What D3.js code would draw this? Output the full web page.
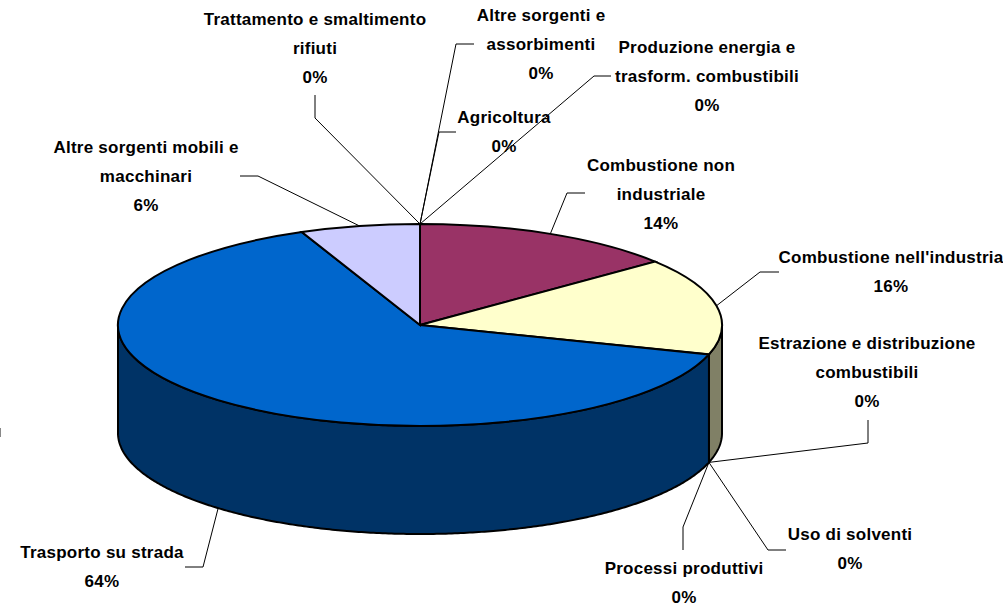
<!DOCTYPE html>
<html>
<head>
<meta charset="utf-8">
<script src="https://cdnjs.cloudflare.com/ajax/libs/d3/7.8.5/d3.min.js"></script>
<style>
html, body { margin: 0; padding: 0; background: #fff; overflow: hidden; }
svg { display: block; }
text { font-family: "Liberation Sans", Arial, sans-serif; font-weight: bold; font-size: 17px; letter-spacing: 0.25px; fill: #000; text-anchor: middle; }
</style>
</head>
<body>
<script>
// Data, clockwise from 12 o'clock
var categories = [
  "Produzione energia e trasform. combustibili",
  "Combustione non industriale",
  "Combustione nell'industria",
  "Estrazione e distribuzione combustibili",
  "Processi produttivi",
  "Uso di solventi",
  "Trasporto su strada",
  "Altre sorgenti mobili e macchinari",
  "Trattamento e smaltimento rifiuti",
  "Agricoltura",
  "Altre sorgenti e assorbimenti"
];
var values = [0, 14.2, 15.5, 0, 0, 0, 63.9, 6.4, 0, 0, 0];
var topColors = ["#999999", "#993366", "#FFFFCC", "#CCFFFF", "#660066", "#FF8080", "#0066CC", "#CCCCFF", "#000080", "#FF00FF", "#FFFF00"];
var sideColors = ["#4d4d4d", "#4d1a33", "#808066", "#668080", "#330033", "#804040", "#003366", "#666680", "#000040", "#800080", "#808000"];

// Label lines, in the same order as the categories
var labelLines = [
  ["Produzione energia e", "trasform. combustibili"],
  ["Combustione non", "industriale"],
  ["Combustione nell'industria"],
  ["Estrazione e distribuzione", "combustibili"],
  ["Processi produttivi"],
  ["Uso di solventi"],
  ["Trasporto su strada"],
  ["Altre sorgenti mobili e", "macchinari"],
  ["Trattamento e smaltimento", "rifiuti"],
  ["Agricoltura"],
  ["Altre sorgenti e", "assorbimenti"]
];

// Where each label sits and the elbows of its leader line
var labelPlace = [
  {x: 707, y: 53, elbow: [[594, 76], [611, 76]]},
  {x: 661, y: 171, elbow: [[567, 193], [585, 193]]},
  {x: 891, y: 263, elbow: [[760, 272], [779, 272]]},
  {x: 867, y: 349, elbow: [[868, 443], [868, 420]]},
  {x: 684, y: 574, elbow: [[683, 527], [683, 550]]},
  {x: 850, y: 540, elbow: [[768, 550], [786, 550]]},
  {x: 102, y: 558, elbow: [[203, 567], [185, 567]]},
  {x: 146, y: 153, elbow: [[258, 176], [240, 176]]},
  {x: 315, y: 25, elbow: [[315, 118], [315, 95]]},
  {x: 504, y: 123, elbow: [[439, 132], [456, 132]]},
  {x: 541, y: 21, elbow: [[456, 44], [474, 44]]}
];

var width = 1003, height = 605;
var cx = 420, cy = 325, rx = 302, ry = 101, depth = 108;
var lineStep = 29;

var svg = d3.select("body")
.append("svg")
.attr("width", width)
.attr("height", height);

var slices = d3.pie()
.sort(null)
.value(function(d) {return d;})(values);

// Point on the tilted rim, angle is clockwise from the top
function rim(angle, drop) {
  return [cx + rx * Math.sin(angle), cy - ry * Math.cos(angle) + drop];
}

var line = d3.line();

// Side wall of a slice, only the part facing the viewer
function wall(a0, a1) {
  var from = Math.max(a0, Math.PI / 2), to = Math.min(a1, Math.PI * 1.5);
  if (to <= from) return null;
  var angles = d3.range(from, to, 0.01).concat([to]);
  var upper = angles.map(function(a) {return rim(a, 0);});
  var lower = angles.slice().reverse().map(function(a) {return rim(a, depth);});
  return line(upper.concat(lower)) + "Z";
}

svg.append("g")
.selectAll("path")
.data(slices.filter(function(d) {return d.value > 0 && wall(d.startAngle, d.endAngle);}))
.join("path")
.attr("d", function(d) {return wall(d.startAngle, d.endAngle);})
.attr("fill", function(d) {return sideColors[d.index];})
.attr("stroke", "#000")
.attr("stroke-width", 2)
.attr("stroke-linejoin", "round");

// Top face is a normal d3 arc squashed into an ellipse
var arc = d3.arc().innerRadius(0).outerRadius(rx);

svg.append("g")
.attr("transform", "translate(" + cx + "," + cy + ") scale(1," + (ry / rx) + ")")
.selectAll("path")
.data(slices.filter(function(d) {return d.value > 0;}))
.join("path")
.attr("d", arc)
.attr("fill", function(d) {return topColors[d.index];})
.attr("stroke", "#000")
.attr("stroke-width", 2)
.attr("vector-effect", "non-scaling-stroke");

// Leader lines start at the middle of the slice on its visible edge
function anchor(d) {
  var mid = (d.startAngle + d.endAngle) / 2;
  var onFront = mid > Math.PI / 2 && mid < Math.PI * 1.5;
  return rim(mid, onFront ? depth : 0);
}

svg.append("g")
.selectAll("path")
.data(slices)
.join("path")
.attr("d", function(d) {return line([anchor(d)].concat(labelPlace[d.index].elbow));})
.attr("fill", "none")
.attr("stroke", "#000")
.attr("stroke-width", 1);

// Labels: name lines then the rounded percent
var labels = svg.append("g")
.selectAll("text")
.data(slices)
.join("text")
.attr("x", function(d) {return labelPlace[d.index].x;})
.attr("y", function(d) {return labelPlace[d.index].y;});

labels.selectAll("tspan")
.data(function(d) {
  return labelLines[d.index].concat([Math.round(d.value) + "%"]).map(function(t) {
    return {text: t, x: labelPlace[d.index].x};
  });
})
.join("tspan")
.attr("x", function(d) {return d.x;})
.attr("dy", function(d, i) {return i ? lineStep : 0;})
.text(function(d) {return d.text;});

// Small grey scrap on the left edge of the original picture
svg.append("line")
.attr("x1", 0.5).attr("x2", 0.5)
.attr("y1", 428).attr("y2", 437)
.attr("stroke", "#888");
</script>
</body>
</html>
